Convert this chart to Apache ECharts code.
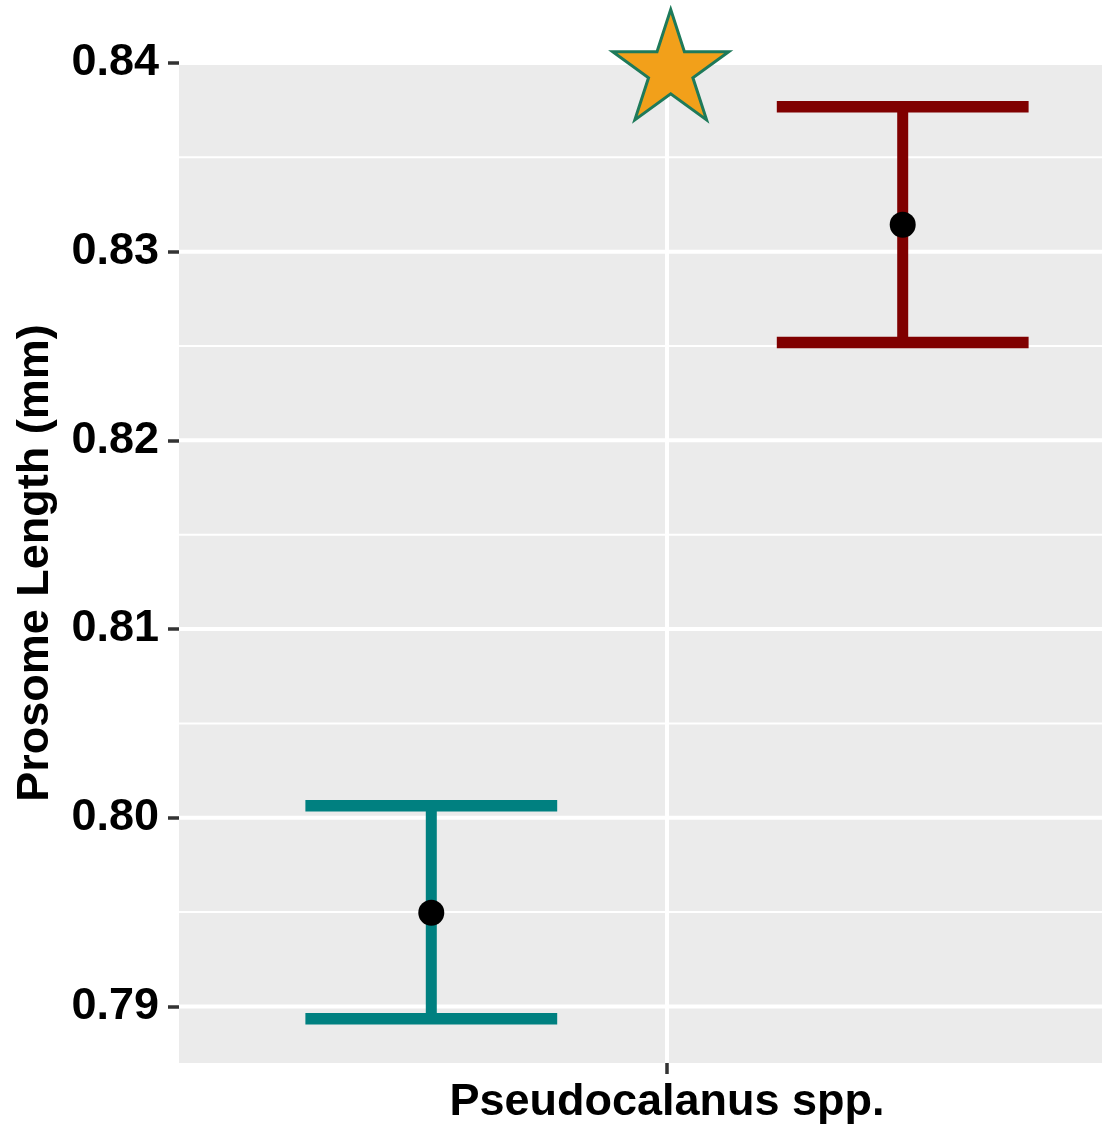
<!DOCTYPE html>
<html>
<head>
<meta charset="utf-8">
<title>Prosome Length</title>
<script src="https://cdn.jsdelivr.net/npm/echarts@6/dist/echarts.min.js"></script>
<style>
  html, body { margin: 0; padding: 0; background: #ffffff; }
  #chart { width: 1102px; height: 1128px; }
</style>
</head>
<body>
<div id="chart"></div>
<script>
// ---- data ----
const categories = ['Pseudocalanus spp.'];
const groups = ['group1', 'group2'];
const means  = [0.79496, 0.83143];
const lowers = [0.78935, 0.82519];
const uppers = [0.80064, 0.83768];
const majorTicks = [0.79, 0.80, 0.81, 0.82, 0.83, 0.84];
const minorTicks = [0.795, 0.805, 0.815, 0.825, 0.835];
const starMarker = [0, 0.8396];   // significance marker (category index, value)

// ---- style ----
const groupColors = ['#008080', '#800000'];
const dodge = [-0.2415, 0.2415];   // fraction of category band
const capHalf = 0.129;             // fraction of category band
const FONT = 'Liberation Sans, Arial, Helvetica, sans-serif';

const chart = echarts.init(document.getElementById('chart'), null, { renderer: 'canvas' });

function hLines(values, width) {
  return {
    type: 'custom', silent: true, z: 1, clip: true,
    data: values.map(v => [0, v]),
    encode: { x: 0, y: 1 },
    renderItem: (params, api) => {
      const cs = params.coordSys;
      const y = api.coord([0, api.value(1)])[1];
      return {
        type: 'line',
        shape: { x1: cs.x, y1: y, x2: cs.x + cs.width, y2: y },
        style: { stroke: '#ffffff', lineWidth: width }
      };
    }
  };
}

const vLines = {
  type: 'custom', silent: true, z: 1, clip: true,
  data: categories.map((c, i) => [i, majorTicks[0]]),
  encode: { x: 0, y: 1 },
  renderItem: (params, api) => {
    const cs = params.coordSys;
    const x = api.coord([api.value(0), api.value(1)])[0];
    return {
      type: 'line',
      shape: { x1: x, y1: cs.y, x2: x, y2: cs.y + cs.height },
      style: { stroke: '#ffffff', lineWidth: 4 }
    };
  }
};

const errorBars = {
  type: 'custom', z: 5, clip: false,
  data: groups.map((g, i) => [0, means[i], lowers[i], uppers[i], i]),
  encode: { x: 0, y: [1, 2, 3] },
  renderItem: (params, api) => {
    const band = api.size([1, 0])[0];
    const gi = api.value(4);
    const cx = api.coord([api.value(0), api.value(1)])[0] + dodge[gi] * band;
    const yM = api.coord([0, api.value(1)])[1];
    const yL = api.coord([0, api.value(2)])[1];
    const yU = api.coord([0, api.value(3)])[1];
    const hw = capHalf * band;
    const color = groupColors[gi];
    return {
      type: 'group',
      children: [
        { type: 'line', shape: { x1: cx, y1: yL, x2: cx, y2: yU }, style: { stroke: color, lineWidth: 11 } },
        { type: 'line', shape: { x1: cx - hw, y1: yU, x2: cx + hw, y2: yU }, style: { stroke: color, lineWidth: 11.5 } },
        { type: 'line', shape: { x1: cx - hw, y1: yL, x2: cx + hw, y2: yL }, style: { stroke: color, lineWidth: 11.5 } },
        { type: 'circle', shape: { cx: cx, cy: yM, r: 13 }, style: { fill: '#000000' } }
      ]
    };
  }
};

const star = {
  type: 'custom', z: 6, clip: false,
  data: [starMarker],
  encode: { x: 0, y: 1 },
  renderItem: (params, api) => {
    const band = api.size([1, 0])[0];
    const p = api.coord([api.value(0), api.value(1)]);
    const cx = p[0] + 0.0038 * band, cy = p[1];
    const R = 61, r = R * 0.382;
    const pts = [];
    for (let k = 0; k < 10; k++) {
      const a = -Math.PI / 2 + k * Math.PI / 5;
      const rad = k % 2 === 0 ? R : r;
      pts.push([cx + rad * Math.cos(a), cy + rad * Math.sin(a)]);
    }
    return {
      type: 'polygon',
      shape: { points: pts },
      style: { fill: '#F2A01A', stroke: '#1E7A5A', lineWidth: 3, lineJoin: 'miter', miterLimit: 10 }
    };
  }
};

chart.setOption({
  animation: false,
  backgroundColor: '#ffffff',
  grid: {
    left: 179, top: 63, width: 976, height: 1000,
    show: true, backgroundColor: '#EBEBEB', borderWidth: 0,
    containLabel: false, outerBoundsMode: 'none'
  },
  xAxis: {
    type: 'category',
    data: categories,
    boundaryGap: true,
    axisLine: { show: false },
    axisTick: { show: true, alignWithLabel: true, length: 11, lineStyle: { color: '#333333', width: 3.5 } },
    axisLabel: { margin: 17, color: '#000000', fontSize: 45, fontWeight: 'bold', fontFamily: FONT },
    splitLine: { show: false }
  },
  yAxis: {
    type: 'value',
    min: 0.787, max: 0.84,
    axisLine: { show: false },
    splitLine: { show: false },
    axisTick: { show: true, customValues: majorTicks, length: 11, lineStyle: { color: '#333333', width: 3.5 } },
    axisLabel: {
      customValues: majorTicks, margin: 20, color: '#000000',
      fontSize: 45, fontWeight: 'bold', fontFamily: FONT,
      padding: [5, 0, 0, 0],
      formatter: v => Number(v).toFixed(2)
    },
    name: 'Prosome Length (mm)',
    nameLocation: 'middle',
    nameRotate: 90,
    nameGap: 121,
    nameTextStyle: { color: '#000000', fontSize: 45, fontWeight: 'bold', fontFamily: FONT }
  },
  series: [hLines(minorTicks, 2), hLines(majorTicks, 4), vLines, errorBars, star]
});
</script>
</body>
</html>
